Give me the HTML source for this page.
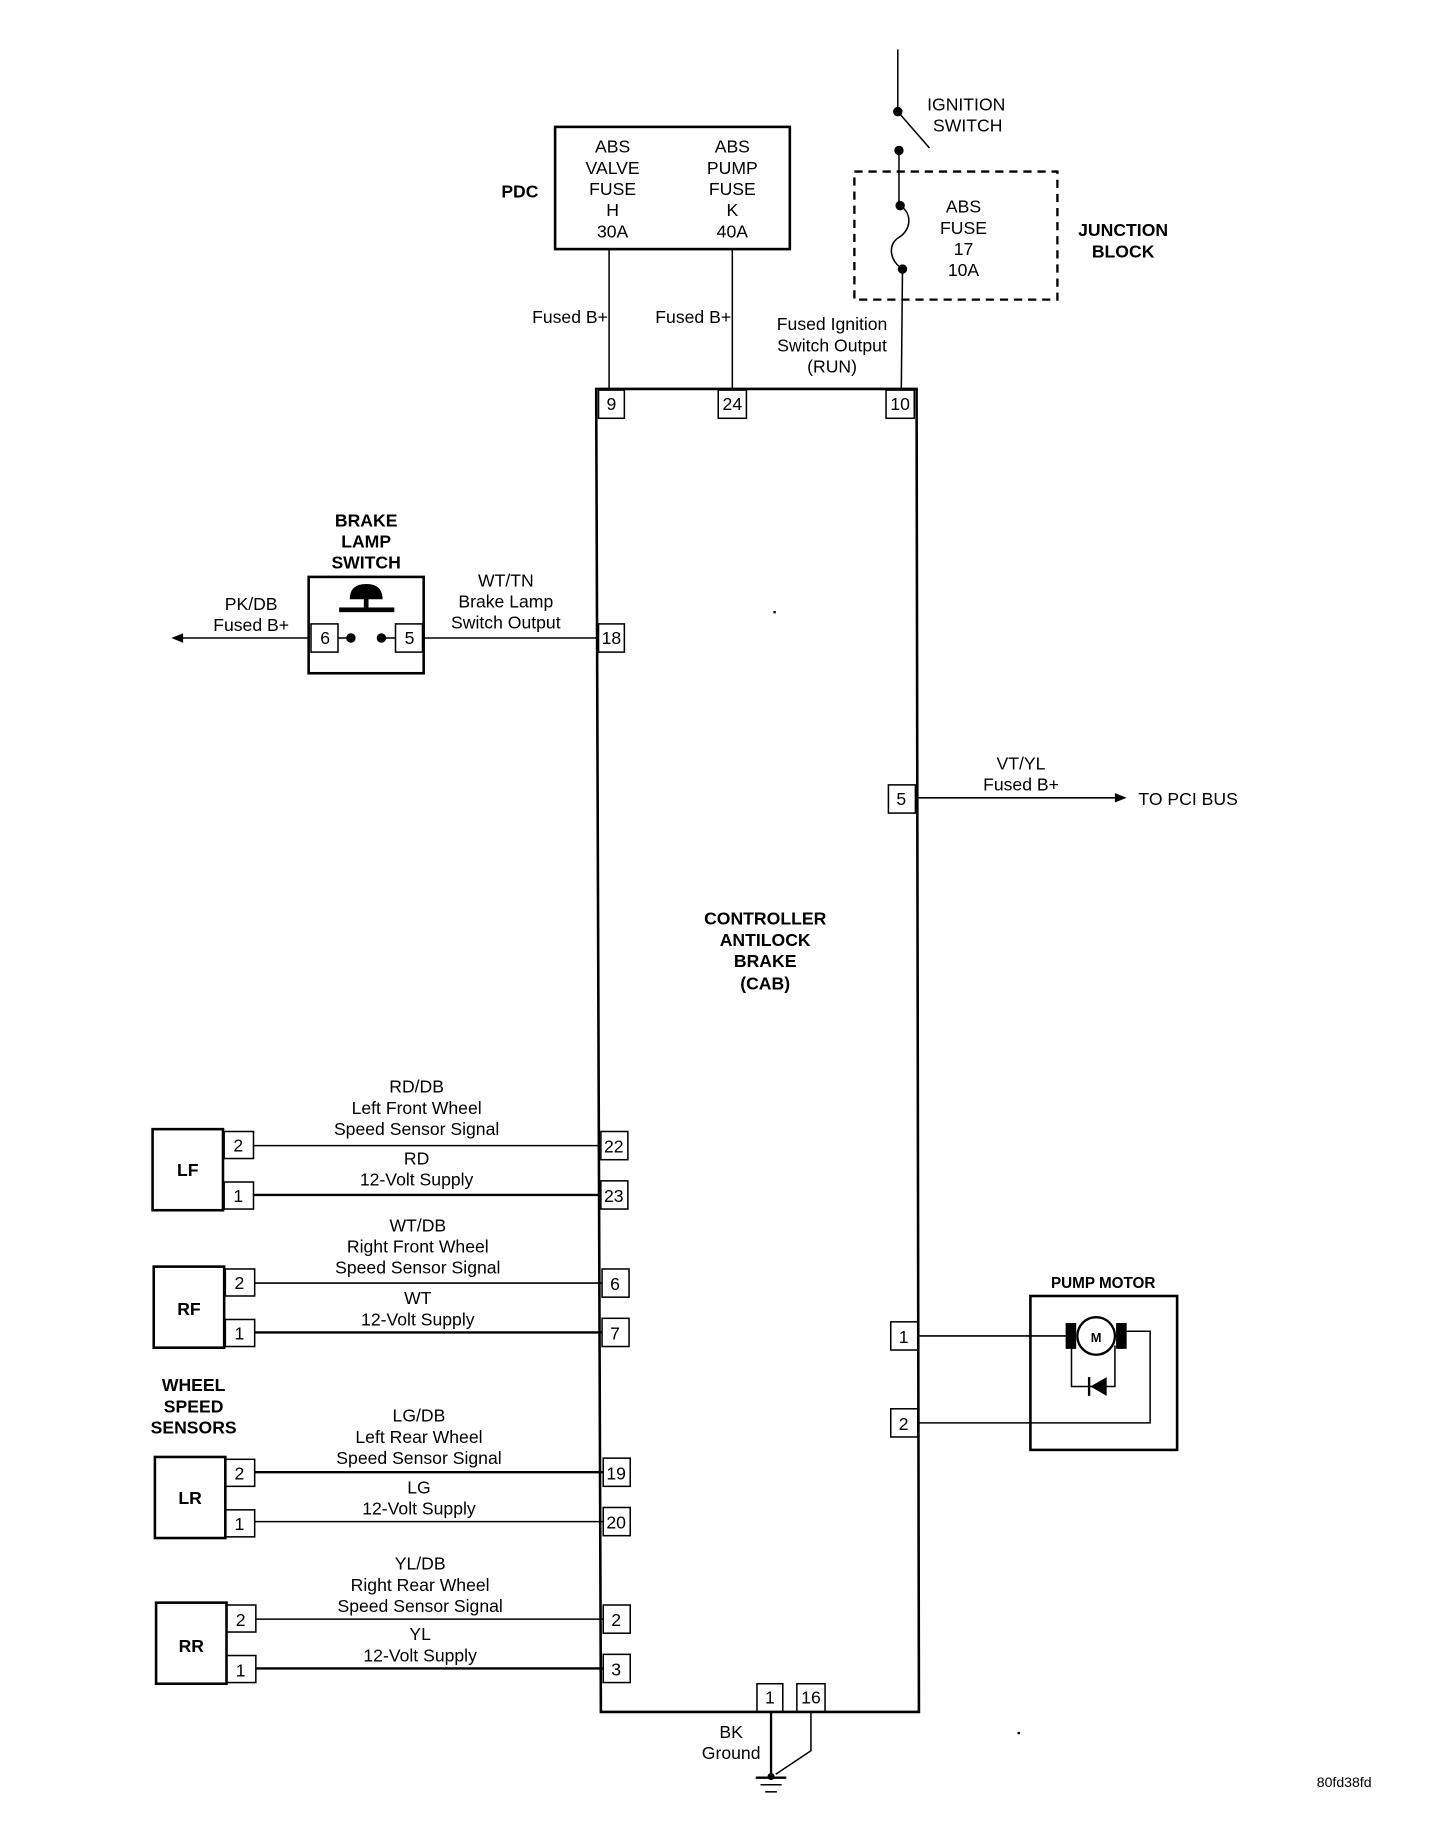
<!DOCTYPE html>
<html><head><meta charset="utf-8"><style>
html,body{margin:0;padding:0;background:#fff;}
svg{display:block;}
text{font-family:"Liberation Sans",sans-serif;font-size:15px;fill:#000;}
.b{font-weight:bold;}
.m{text-anchor:middle;}
.e{text-anchor:end;}
</style></head><body>
<svg width="1440" height="1840" viewBox="0 0 1227 1566" preserveAspectRatio="none" xmlns="http://www.w3.org/2000/svg">
<g stroke="#000" fill="none" stroke-width="1.3">
<line x1="765" y1="42" x2="765" y2="95"/>
<line x1="765" y1="95" x2="792" y2="126"/>
<line x1="766" y1="128" x2="766" y2="175"/>
<rect x="728" y="146" width="173" height="109" stroke-dasharray="7,5" stroke-width="2"/>
<path d="M767 175 C778 182,776 196,766 202 C756 208,758 222,769 229"/>
<line x1="769" y1="229" x2="768" y2="330"/>
<rect x="473" y="108" width="200" height="104" stroke-width="2.2"/>
<line x1="519" y1="212" x2="519" y2="331"/>
<line x1="624" y1="212" x2="624" y2="331"/>
<path d="M508 331 L781 331 L783 1457 L512 1457 Z" stroke-width="2.2"/>
<rect x="510" y="332" width="22" height="24"/>
<rect x="612" y="332" width="24" height="24"/>
<rect x="755" y="332" width="24" height="24"/>
<rect x="510" y="531" width="22" height="24"/>
<rect x="757" y="668" width="23" height="24"/>
<rect x="263" y="491" width="98" height="82" stroke-width="2.2"/>
<rect x="265" y="531" width="23" height="24"/>
<rect x="337" y="531" width="23" height="24"/>
<line x1="288" y1="543" x2="299" y2="543"/>
<line x1="325" y1="543" x2="337" y2="543"/>
<line x1="263" y1="543" x2="152" y2="543"/>
<line x1="361" y1="543" x2="510" y2="543"/>
<line x1="781" y1="679" x2="950" y2="679"/>
<rect x="130" y="961" width="60" height="69" stroke-width="2.2"/>
<rect x="191" y="963" width="25" height="23"/><rect x="191" y="1006" width="25" height="23"/>
<rect x="512" y="963" width="23" height="24"/><rect x="512" y="1005" width="23" height="24"/>
<line x1="216" y1="975" x2="512" y2="975"/><line x1="216" y1="1017" x2="512" y2="1017" stroke-width="2"/>
<rect x="131" y="1078" width="60" height="69" stroke-width="2.2"/>
<rect x="192" y="1080" width="25" height="23"/><rect x="192" y="1123" width="25" height="23"/>
<rect x="513" y="1080" width="23" height="24"/><rect x="513" y="1122" width="23" height="24"/>
<line x1="217" y1="1092" x2="513" y2="1092"/><line x1="217" y1="1134" x2="513" y2="1134" stroke-width="2"/>
<rect x="132" y="1240" width="60" height="69" stroke-width="2.2"/>
<rect x="192" y="1242" width="25" height="23"/><rect x="192" y="1285" width="25" height="23"/>
<rect x="514" y="1241" width="23" height="24"/><rect x="514" y="1283" width="23" height="24"/>
<line x1="217" y1="1253" x2="514" y2="1253" stroke-width="2"/><line x1="217" y1="1295" x2="514" y2="1295"/>
<rect x="133" y="1364" width="60" height="69" stroke-width="2.2"/>
<rect x="193" y="1366" width="25" height="23"/><rect x="193" y="1409" width="25" height="23"/>
<rect x="514" y="1366" width="23" height="24"/><rect x="514" y="1408" width="23" height="24"/>
<line x1="218" y1="1378" x2="514" y2="1378"/><line x1="218" y1="1420" x2="514" y2="1420" stroke-width="2"/>
<rect x="878" y="1103" width="125" height="131" stroke-width="2.2"/>
<rect x="759" y="1125" width="23" height="24"/>
<rect x="759" y="1199" width="23" height="24"/>
<line x1="782" y1="1137" x2="910" y2="1137"/>
<circle cx="934" cy="1137" r="16" stroke-width="2"/>
<polyline points="958,1133 980,1133 980,1211 782,1211"/>
<polyline points="913,1145 913,1180 950,1180 950,1145"/>
<line x1="928" y1="1172" x2="928" y2="1188" stroke-width="2"/>
<rect x="645" y="1433" width="22" height="24"/>
<rect x="679" y="1433" width="24" height="24"/>
<line x1="657" y1="1457" x2="657" y2="1512" stroke-width="2"/>
<polyline points="691,1457 691,1490 661,1510"/>
<line x1="644" y1="1513" x2="670" y2="1513" stroke-width="2"/>
<line x1="648" y1="1519" x2="666" y2="1519"/>
<line x1="652" y1="1525" x2="662" y2="1525"/>
</g>
<g fill="#000">
<circle cx="765" cy="95" r="4"/>
<circle cx="766" cy="128" r="4"/>
<circle cx="767" cy="175" r="4"/>
<circle cx="769" cy="229" r="4"/>
<circle cx="299" cy="543" r="4"/>
<circle cx="325" cy="543" r="4"/>
<polygon points="146,543 156,539 156,547"/>
<polygon points="960,679 950,675 950,683"/>
<path d="M298 510 Q298 497 312 497 Q326 497 326 510 Z"/>
<rect x="310" y="509" width="4" height="10"/>
<rect x="289" y="517" width="47" height="4"/>
<rect x="908" y="1126" width="9" height="22"/>
<rect x="951" y="1126" width="9" height="22"/>
<polygon points="929,1180 943,1172 943,1188"/>
<circle cx="657" cy="1512" r="3"/>
<rect x="659" y="520" width="2" height="2"/>
<rect x="867" y="1474" width="2" height="2"/>
</g>
<text x="790" y="94">IGNITION</text>
<text x="795" y="112">SWITCH</text>
<g class="m">
<text x="821" y="181" class="m">ABS</text><text x="821" y="199" class="m">FUSE</text><text x="821" y="217" class="m">17</text><text x="821" y="235" class="m">10A</text>
<text x="957" y="201" class="m b">JUNCTION</text><text x="957" y="219" class="m b">BLOCK</text>
<text x="522" y="130" class="m">ABS</text><text x="522" y="148" class="m">VALVE</text><text x="522" y="166" class="m">FUSE</text><text x="522" y="184" class="m">H</text><text x="522" y="202" class="m">30A</text>
<text x="624" y="130" class="m">ABS</text><text x="624" y="148" class="m">PUMP</text><text x="624" y="166" class="m">FUSE</text><text x="624" y="184" class="m">K</text><text x="624" y="202" class="m">40A</text>
<text x="443" y="168" class="m b">PDC</text>
<text x="518" y="275" class="e">Fused B+</text>
<text x="623" y="275" class="e">Fused B+</text>
<text x="709" y="281" class="m">Fused Ignition</text><text x="709" y="299" class="m">Switch Output</text><text x="709" y="317" class="m">(RUN)</text>
<text x="521" y="349" class="m">9</text><text x="624" y="349" class="m">24</text><text x="767" y="349" class="m">10</text>
<text x="312" y="448" class="m b">BRAKE</text><text x="312" y="466" class="m b">LAMP</text><text x="312" y="484" class="m b">SWITCH</text>
<text x="214" y="519" class="m">PK/DB</text><text x="214" y="537" class="m">Fused B+</text>
<text x="431" y="499" class="m">WT/TN</text><text x="431" y="517" class="m">Brake Lamp</text><text x="431" y="535" class="m">Switch Output</text>
<text x="277" y="548" class="m">6</text><text x="349" y="548" class="m">5</text><text x="521" y="548" class="m">18</text>
<text x="870" y="655" class="m">VT/YL</text><text x="870" y="673" class="m">Fused B+</text>
<text x="768" y="685" class="m">5</text>
<text x="652" y="787" class="m b">CONTROLLER</text><text x="652" y="805" class="m b">ANTILOCK</text><text x="652" y="823" class="m b">BRAKE</text><text x="652" y="842" class="m b">(CAB)</text>
<text x="355" y="930" class="m">RD/DB</text><text x="355" y="948" class="m">Left Front Wheel</text><text x="355" y="966" class="m">Speed Sensor Signal</text><text x="355" y="991" class="m">RD</text><text x="355" y="1009" class="m">12-Volt Supply</text>
<text x="160" y="1001" class="m b">LF</text><text x="203" y="980" class="m">2</text><text x="203" y="1023" class="m">1</text><text x="523" y="981" class="m">22</text><text x="523" y="1023" class="m">23</text>
<text x="356" y="1048" class="m">WT/DB</text><text x="356" y="1066" class="m">Right Front Wheel</text><text x="356" y="1084" class="m">Speed Sensor Signal</text><text x="356" y="1110" class="m">WT</text><text x="356" y="1128" class="m">12-Volt Supply</text>
<text x="161" y="1119" class="m b">RF</text><text x="204" y="1097" class="m">2</text><text x="204" y="1140" class="m">1</text><text x="524" y="1098" class="m">6</text><text x="524" y="1140" class="m">7</text>
<text x="165" y="1184" class="m b">WHEEL</text><text x="165" y="1202" class="m b">SPEED</text><text x="165" y="1220" class="m b">SENSORS</text>
<text x="357" y="1210" class="m">LG/DB</text><text x="357" y="1228" class="m">Left Rear Wheel</text><text x="357" y="1246" class="m">Speed Sensor Signal</text><text x="357" y="1271" class="m">LG</text><text x="357" y="1289" class="m">12-Volt Supply</text>
<text x="162" y="1280" class="m b">LR</text><text x="204" y="1259" class="m">2</text><text x="204" y="1302" class="m">1</text><text x="525" y="1259" class="m">19</text><text x="525" y="1301" class="m">20</text>
<text x="358" y="1336" class="m">YL/DB</text><text x="358" y="1354" class="m">Right Rear Wheel</text><text x="358" y="1372" class="m">Speed Sensor Signal</text><text x="358" y="1396" class="m">YL</text><text x="358" y="1414" class="m">12-Volt Supply</text>
<text x="163" y="1406" class="m b">RR</text><text x="205" y="1384" class="m">2</text><text x="205" y="1427" class="m">1</text><text x="525" y="1384" class="m">2</text><text x="525" y="1426" class="m">3</text>
<text x="940" y="1096" class="m b" style="font-size:13px">PUMP MOTOR</text>
<text x="934" y="1142" class="m b" style="font-size:11px">M</text>
<text x="770" y="1143" class="m">1</text><text x="770" y="1217" class="m">2</text>
<text x="656" y="1450" class="m">1</text><text x="691" y="1450" class="m">16</text>
<text x="623" y="1479" class="m">BK</text><text x="623" y="1497" class="m">Ground</text>
</g>
<text x="970" y="685">TO PCI BUS</text>
<text x="1122" y="1521" style="font-size:12px">80fd38fd</text>
</svg>
</body></html>
